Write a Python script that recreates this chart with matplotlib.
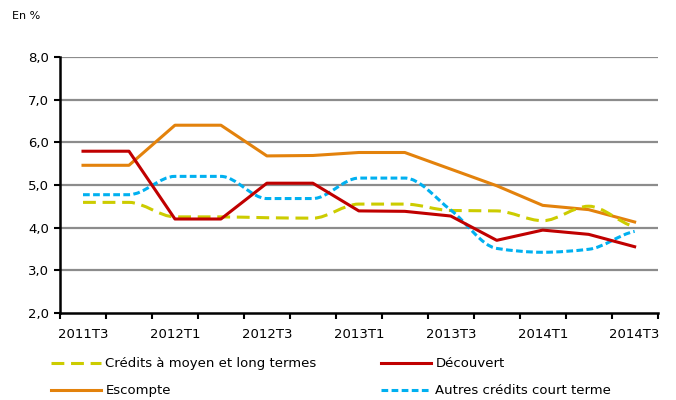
import numpy as np
import matplotlib
matplotlib.use("Agg")
from matplotlib import pyplot as plt
from matplotlib.path import Path
from matplotlib.patches import PathPatch
from matplotlib.lines import Line2D
from matplotlib.ticker import FuncFormatter

quarters = ["2011T3", "2011T4", "2012T1", "2012T2", "2012T3", "2012T4", "2013T1",
            "2013T2", "2013T3", "2013T4", "2014T1", "2014T2", "2014T3"]
credits_mlt = [4.59, 4.59, 4.25, 4.25, 4.23, 4.22, 4.55, 4.55, 4.40, 4.39, 4.16, 4.50, 4.02]
decouvert = [5.79, 5.79, 4.20, 4.20, 5.04, 5.04, 4.39, 4.38, 4.27, 3.70, 3.94, 3.84, 3.55]
escompte = [5.46, 5.46, 6.40, 6.40, 5.68, 5.69, 5.76, 5.76, 5.37, 4.98, 4.52, 4.42, 4.13]
autres_ct = [4.77, 4.77, 5.20, 5.20, 4.68, 4.68, 5.16, 5.16, 4.41, 3.51, 3.42, 3.49, 3.91]

yellow = "#CCCC00"
red = "#C00000"
orange = "#E3820C"
blue = "#00B0F0"


def smooth_path(x, y):
    # bezier curve through the points (smoothed line), flat where the data is flat
    x = np.asarray(x, float)
    y = np.asarray(y, float)
    n = len(x)
    sl = np.diff(y) / np.diff(x)
    d = np.zeros(n)
    for i in range(1, n - 1):
        a, b = sl[i - 1], sl[i]
        if a * b > 0:
            d[i] = 2 * a * b / (a + b)
    d[0] = sl[0] * 0.5
    d[-1] = sl[-1] * 0.5
    verts = [(x[0], y[0])]
    codes = [Path.MOVETO]
    for i in range(n - 1):
        h = x[i + 1] - x[i]
        verts += [(x[i] + h / 3, y[i] + d[i] * h / 3),
                  (x[i + 1] - h / 3, y[i + 1] - d[i + 1] * h / 3),
                  (x[i + 1], y[i + 1])]
        codes += [Path.CURVE4] * 3
    return Path(verts, codes)


x = np.arange(len(quarters))

fig = plt.figure(figsize=(6.76, 4.0), dpi=100)
ax = fig.add_axes([0.0888, 0.218, 0.884, 0.6395])

for v in range(3, 9):
    ax.axhline(v, color="#8C8C8C", lw=1.6, zorder=0)

ax.add_patch(PathPatch(smooth_path(x, credits_mlt), fill=False, color=yellow,
                       lw=2.2, linestyle=(0, (4.2, 2.2)), zorder=3))
ax.plot(x, decouvert, color=red, lw=2.2, zorder=4)
ax.plot(x, escompte, color=orange, lw=2.2, zorder=2)
ax.add_patch(PathPatch(smooth_path(x, autres_ct), fill=False, color=blue,
                       lw=2.2, linestyle=(0, (2.2, 1.1)), zorder=3))

ax.set_xlim(-0.5, len(quarters) - 0.5)
ax.set_ylim(2, 8)
ax.set_xticks(np.arange(-0.5, len(quarters), 1.0))
ax.set_xticklabels([])
ax.set_xticks(x[::2], minor=True)
ax.set_xticklabels(quarters[::2], minor=True, fontsize=9.5)
ax.tick_params(axis="x", which="minor", length=0, pad=11)
ax.tick_params(axis="x", which="major", length=4, width=1.5, direction="out")
ax.set_yticks(np.arange(2, 8.01, 1))
ax.yaxis.set_major_formatter(FuncFormatter(lambda v, p: ("%.1f" % v).replace(".", ",")))
ax.tick_params(axis="y", length=4, width=1.5, labelsize=9.5, pad=4)

for s in ["top", "right"]:
    ax.spines[s].set_visible(False)
for s in ["left", "bottom"]:
    ax.spines[s].set_linewidth(1.8)

fig.text(0.018, 0.96, "En %", fontsize=8, va="center")

handles = [
    Line2D([], [], color=yellow, lw=2.2, linestyle=(0, (4.2, 2.2))),
    Line2D([], [], color=orange, lw=2.2),
    Line2D([], [], color=red, lw=2.2),
    Line2D([], [], color=blue, lw=2.2, linestyle=(0, (2.2, 1.1))),
]
labels = ["Crédits à moyen et long termes", "Escompte", "Découvert", "Autres crédits court terme"]
fig.legend(handles, labels, ncol=2, frameon=False, fontsize=9.5, loc="upper left",
           bbox_to_anchor=(0.068, 0.12), handlelength=3.8, handletextpad=0.3,
           columnspacing=4.9, labelspacing=1.05, borderaxespad=0)

fig.savefig("out.png", dpi=100)
